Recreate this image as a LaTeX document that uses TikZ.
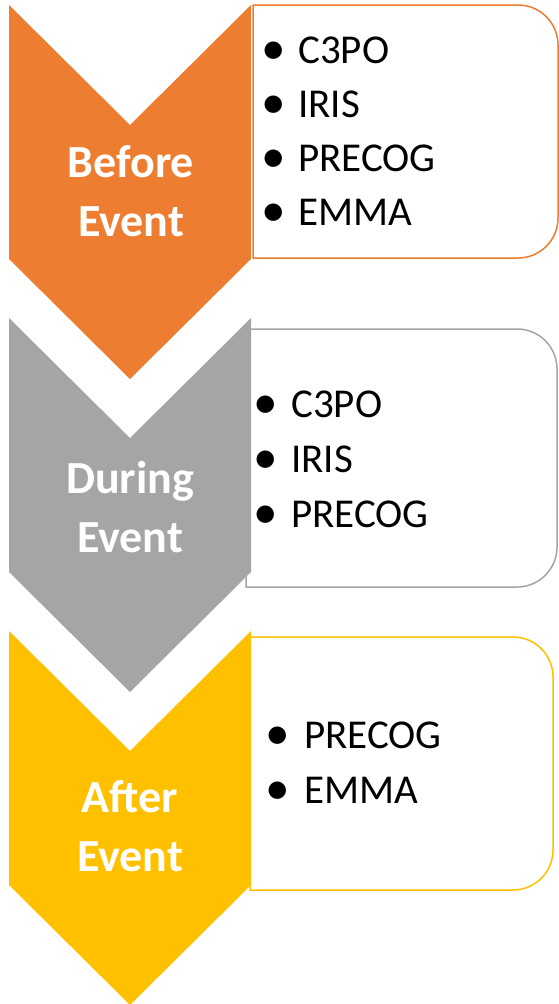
\documentclass[tikz,border=0pt]{standalone}
\usepackage{fontspec}
\setmainfont{Carlito}
\usepackage{tikz}
\usetikzlibrary{positioning}
\definecolor{StageOrange}{RGB}{237,125,49}
\definecolor{StageGray}{RGB}{165,165,165}
\definecolor{StageYellow}{RGB}{255,192,0}

\newcommand{\bigbullet}{\hspace{-5pt}\raisebox{-0.03em}{\scalebox{1.2}{\textbullet}}}

\tikzset{
	stage/.style={fill=#1, draw=none},
	infobox/.style={draw=#1, line width=1.5pt, fill=white},
	stagelabel/.style={text=white, align=center, font=\fontsize{46}{59}\selectfont\bfseries},
	item/.style={anchor=base west, inner sep=0pt, font=\fontsize{41}{54}\selectfont}
}

\begin{document}
\begin{tikzpicture}[x=1pt, y=-1pt]
		\useasboundingbox (0,0) rectangle (559,1004);
		
		% boxes with the items
		\draw[infobox=StageOrange] (253,5) -- (518,5) arc[start angle=-90, end angle=0, radius=40]
			-- (558,218) arc[start angle=0, end angle=90, radius=40] -- (253,258) -- cycle;
		\draw[infobox=StageGray] (246,329) -- (517,329) arc[start angle=-90, end angle=0, radius=40]
			-- (557,547) arc[start angle=0, end angle=90, radius=40] -- (246,587) -- cycle;
		\draw[infobox=StageYellow] (250,637) -- (513,637) arc[start angle=-90, end angle=0, radius=40]
			-- (553,850) arc[start angle=0, end angle=90, radius=40] -- (250,890) -- cycle;
		
		% chevrons
		\fill[stage=StageOrange] (9,5) -- (130,125) -- (251,5) -- (251,259) -- (130,379) -- (9,259) -- cycle;
		\fill[stage=StageGray] (9,318) -- (130,438) -- (251,318) -- (251,572) -- (130,692) -- (9,572) -- cycle;
		\fill[stage=StageYellow] (9,631) -- (130,751) -- (251,631) -- (251,885) -- (130,1005) -- (9,885) -- cycle;
		
		\node[stagelabel] (before) at (131,191) {Before\\Event};
		\node[stagelabel] (during) at (130,507) {During\\Event};
		\node[stagelabel] (after) at (130,826) {After\\Event};
		
		\node[item] (b1) at (266,63) {\makebox[32pt][l]{\bigbullet}C3PO};
		\node[item] (b2) at (266,117) {\makebox[32pt][l]{\bigbullet}IRIS};
		\node[item] (b3) at (266,171) {\makebox[32pt][l]{\bigbullet}PRECOG};
		\node[item] (b4) at (266,225) {\makebox[32pt][l]{\bigbullet}EMMA};
		
		\node[item] (d1) at (258,417) {\makebox[33pt][l]{\bigbullet}C3PO};
		\node[item] (d2) at (258,472) {\makebox[33pt][l]{\bigbullet}IRIS};
		\node[item] (d3) at (258,527) {\makebox[33pt][l]{\bigbullet}PRECOG};
		
		\node[item] (a1) at (270,748) {\makebox[34pt][l]{\bigbullet}PRECOG};
		\node[item] (a2) at (270,803) {\makebox[34pt][l]{\bigbullet}EMMA};
	\end{tikzpicture}
\end{document}
